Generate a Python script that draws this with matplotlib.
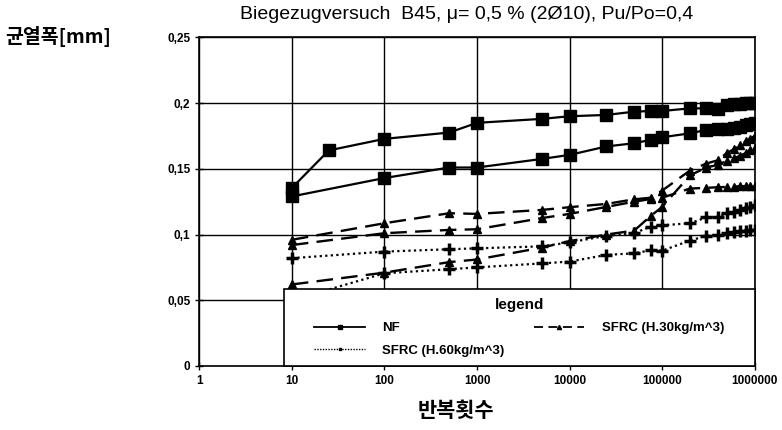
import matplotlib
matplotlib.use('Agg')
import matplotlib.pyplot as plt
from matplotlib.lines import Line2D
from matplotlib.patches import Rectangle

# cycles (x) and crack width in mm (y)
nf1_x = [10, 25, 100, 500, 1000, 5000, 10000, 25000, 50000, 75000, 100000,
         200000, 300000, 400000, 500000, 600000, 700000, 800000, 900000, 1000000]
nf1_y = [0.1355, 0.164, 0.1728, 0.1776, 0.185, 0.188, 0.190, 0.191, 0.1935, 0.194, 0.194,
         0.196, 0.196, 0.1955, 0.1985, 0.199, 0.1995, 0.200, 0.200, 0.200]

cyc = [10, 100, 500, 1000, 5000, 10000, 25000, 50000, 75000, 100000,
       200000, 300000, 400000, 500000, 600000, 700000, 800000, 900000, 1000000]
nf2_y = [0.129, 0.143, 0.151, 0.151, 0.1575, 0.1606, 0.167, 0.1695, 0.172, 0.174,
         0.177, 0.1796, 0.180, 0.180, 0.181, 0.182, 0.183, 0.184, 0.1847]

s30a_y = [0.096, 0.1086, 0.1162, 0.1157, 0.1187, 0.1208, 0.1233, 0.1268, 0.128, 0.1334,
          0.1487, 0.154, 0.1565, 0.162, 0.165, 0.168, 0.171, 0.173, 0.175]
s30b_y = [0.092, 0.101, 0.1035, 0.104, 0.1125, 0.1157, 0.121, 0.125, 0.127, 0.128,
          0.135, 0.1355, 0.136, 0.1362, 0.1365, 0.1367, 0.1368, 0.137, 0.137]
s30c_y = [0.062, 0.071, 0.079, 0.081, 0.090, 0.095, 0.100, 0.103, 0.114, 0.121,
          0.145, 0.151, 0.153, 0.156, 0.158, 0.160, 0.162, 0.164, 0.166]

s60a_y = [0.082, 0.087, 0.0888, 0.0895, 0.091, 0.094, 0.099, 0.101, 0.106, 0.107,
          0.1086, 0.113, 0.1135, 0.116, 0.117, 0.119, 0.120, 0.121, 0.1225]
s60b_y = [0.050, 0.0705, 0.0736, 0.075, 0.078, 0.0794, 0.0845, 0.0857, 0.088, 0.0877,
          0.0954, 0.099, 0.100, 0.101, 0.102, 0.1025, 0.103, 0.1033, 0.1035]

y_ticks = [0, 0.05, 0.1, 0.15, 0.2, 0.25]
y_labels = ['0', '0,05', '0,1', '0,15', '0,2', '0,25']
x_ticks = [1, 10, 100, 1000, 10000, 100000, 1000000]
x_labels = ['1', '10', '100', '1000', '10000', '100000', '1000000']

plt.rcParams['font.family'] = ['Liberation Sans', 'DejaVu Sans']

fig = plt.figure(figsize=(7.82, 4.3), dpi=100)
ax = fig.add_axes([0.255, 0.149, 0.710, 0.764])

ax.plot(nf1_x, nf1_y, '-', c='k', lw=1.6, marker='s', ms=9)
ax.plot(cyc, nf2_y, '-', c='k', lw=1.6, marker='s', ms=9)
for yy in (s30a_y, s30b_y, s30c_y):
    ax.plot(cyc, yy, c='k', lw=1.7, ls=(0, (7, 3.5)), marker='^', ms=6)
for yy in (s60a_y, s60b_y):
    ax.plot(cyc, yy, c='k', lw=1.6, ls=(0, (1, 1.5)), marker='+', ms=8, mew=2.5)

ax.set_xscale('log')
ax.set_xlim(1, 1000000)
ax.set_ylim(0, 0.25)
ax.set_xticks(x_ticks)
ax.set_xticklabels(x_labels)
ax.set_yticks(y_ticks)
ax.set_yticklabels(y_labels)
ax.minorticks_off()
ax.grid(True, color='k', lw=1)
ax.set_axisbelow(True)
for sp in ax.spines.values():
    sp.set_linewidth(1.2)
ax.tick_params(direction='inout', length=6, width=1, labelsize=8.5)
for lab in ax.get_xticklabels() + ax.get_yticklabels():
    lab.set_fontweight('bold')

# legend box: white frame over the lower right part of the plot
box = Rectangle((0.152, 0.0), 0.848, 0.234, transform=ax.transAxes,
                facecolor='white', edgecolor='k', lw=1.2, zorder=9, clip_on=False)
ax.add_patch(box)

handles = [
    Line2D([], [], c='k', lw=1.3, marker='s', ms=3),
    Line2D([], [], c='k', lw=1, ls=(0, (1, 1)), marker='s', ms=2),
    Line2D([], [], c='k', lw=1.3, ls=(0, (5, 3)), marker='^', ms=3),
]
labels = ['NF', 'SFRC (H.60kg/m^3)', 'SFRC (H.30kg/m^3)']
leg = ax.legend(handles, labels, ncol=2, loc='center',
                bbox_to_anchor=(0.152 + 0.848 / 2, 0.117),
                borderaxespad=0, title='legend', frameon=False,
                handlelength=3.8, handletextpad=1.3, columnspacing=2.3,
                labelspacing=0.75, borderpad=0.3,
                prop={'size': 9.5, 'weight': 'bold'})
leg.get_title().set_fontweight('bold')
leg.get_title().set_fontsize(11)
leg.set_zorder(10)

fig.text(0.597, 0.967, 'Biegezugversuch  B45, μ= 0,5 % (2Ø10), Pu/Po=0,4',
         ha='center', va='center', fontsize=14)
fig.text(0.006, 0.915, '균열폭[mm]', ha='left', va='center', fontsize=14,
         fontweight='bold', family=['Noto Sans CJK KR', 'DejaVu Sans'])
fig.text(0.583, 0.045, '반복횟수', ha='center', va='center', fontsize=15,
         fontweight='bold', family=['Noto Sans CJK KR', 'DejaVu Sans'])

fig.savefig('out.png', dpi=100)
